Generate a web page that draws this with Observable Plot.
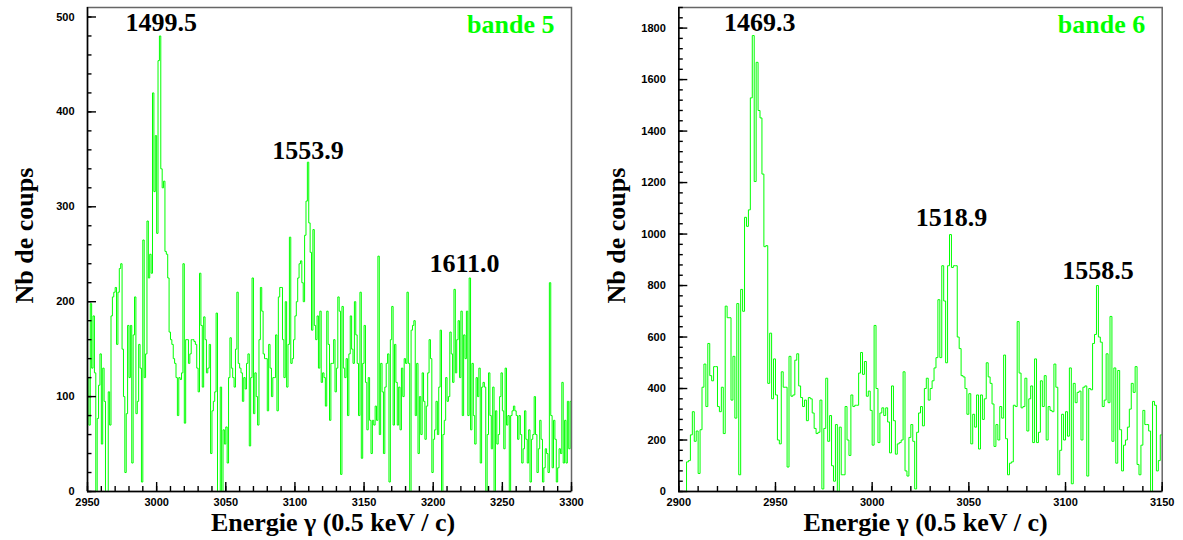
<!DOCTYPE html>
<html><head><meta charset="utf-8">
<script src="https://cdn.jsdelivr.net/npm/d3@7"></script>
<script src="https://cdn.jsdelivr.net/npm/@observablehq/plot@0.6"></script>
<style>
html,body{margin:0;padding:0;background:#fff;}
#wrap{display:flex;width:1183px;height:540px;overflow:hidden;}
#wrap svg{display:block;}
</style></head><body><div id="wrap"></div>
<script>
// ---- band 5 (left) ----
const band5Start = 2950;
const band5Counts = [
120,70,198,130,185,125,0,77,112,145,
50,130,95,0,0,105,70,185,205,210,
215,155,210,235,240,150,100,20,82,175,
120,175,30,165,205,82,95,155,130,10,
265,120,145,285,225,250,230,420,316,375,
272,454,480,340,320,327,253,250,225,168,
160,155,140,135,120,80,120,118,125,240,
72,160,160,135,145,160,160,158,155,130,
105,230,175,110,184,160,125,130,155,40,
85,95,105,188,0,0,110,0,65,50,
68,30,120,162,130,120,110,150,210,135,
130,125,95,120,108,135,145,48,120,225,
82,125,100,70,160,215,190,145,140,140,
85,155,130,100,120,120,165,85,205,215,
215,160,120,200,110,155,268,135,140,160,
185,200,225,240,243,220,200,270,306,347,
283,252,170,276,175,160,185,130,190,115,
125,120,90,190,155,75,135,135,160,105,
130,205,190,18,195,130,120,140,80,145,
185,150,135,200,165,135,80,210,35,135,
175,115,65,120,75,40,75,70,90,75,
248,60,135,105,40,110,135,145,10,160,
195,70,155,115,70,110,65,130,100,140,
135,210,135,0,170,175,180,80,135,40,
100,60,125,95,55,90,125,160,140,20,
55,65,95,60,110,170,0,60,75,120,
95,100,168,145,115,213,125,160,180,120,
190,80,165,140,190,80,225,65,135,80,
50,120,100,130,30,110,115,110,0,60,
125,80,45,110,0,85,50,60,100,125,
85,45,130,70,80,0,80,85,90,85,
80,55,80,60,30,45,85,55,30,65,
10,55,60,100,60,20,45,75,55,10,
25,45,40,20,220,80,25,75,55,10,
25,45,40,115,30,75,30,95,45,95
];
const band5XDomain = [2950, 3300];
const band5YDomain = [0, 510];
const band5XTicks = [2950, 3000, 3050, 3100, 3150, 3200, 3250, 3300];
const band5YTicks = [0, 100, 200, 300, 400, 500];
const band5PeakLabels = ["1499.5", "1553.9", "1611.0"];
const band5PeakX = [3003.3, 3109.4, 3222.6];
const band5PeakY = [494, 359, 240];
const band5Name = "bande 5";

// ---- band 6 (right) ----
const band6Start = 2900;
const band6Counts = [
0,0,0,0,115,120,220,310,195,235,
70,240,405,495,330,575,450,430,485,485,
330,310,405,225,720,675,675,355,525,285,
730,65,785,700,1065,1030,1094,1529,1771,1204,
1667,1480,1451,1233,951,955,420,615,360,515,
375,200,185,465,405,405,95,525,370,375,
510,535,410,365,330,355,275,365,360,305,
245,225,230,355,10,245,440,195,295,100,
40,260,0,250,65,65,330,200,140,375,
330,335,335,460,540,455,505,370,390,315,
180,645,400,190,305,325,295,325,270,150,
410,275,145,185,190,200,465,80,60,210,
260,195,10,230,305,330,255,400,440,355,
400,430,480,520,745,520,877,740,500,877,
998,870,877,877,600,555,450,445,400,300,
380,185,300,250,375,165,375,280,360,500,
445,420,340,175,260,200,330,285,530,205,
65,110,115,335,330,660,460,325,330,440,
235,360,410,190,515,190,230,430,330,450,
200,330,315,310,495,405,65,160,300,200,
310,215,480,30,420,345,385,390,200,405,
410,60,400,395,575,610,800,600,580,330,
355,535,345,680,195,480,110,470,240,80,
180,200,250,320,420,385,485,105,65,180,
315,260,260,235,0,350,335,80,120,220
];
const band6XDomain = [2900, 3150];
const band6YDomain = [0, 1880];
const band6XTicks = [2900, 2950, 3000, 3050, 3100, 3150];
const band6YTicks = [0, 200, 400, 600, 800, 1000, 1200, 1400, 1600, 1800];
const band6PeakLabels = ["1469.3", "1518.9", "1558.5"];
const band6PeakX = [2941.9, 3041, 3116.8];
const band6PeakY = [1822, 1062, 858];
const band6Name = "bande 6";

const xTitle = "Energie γ (0.5 keV / c)";
const yTitle = "Nb de coups";

const GREEN = "#00ff00";
const SERIF = "'Liberation Serif', 'Times New Roman', serif";
const SANS = "'Liberation Sans', Arial, Helvetica, sans-serif";

function panel(o) {
  const H = 540, MT = 7, MB = 49;
  const pts = o.counts.map((v, i) => ({x: o.start + i, y: v}));
  pts.push({x: o.start + o.counts.length, y: o.counts[o.counts.length - 1]});
  const xMinor = d3.range(o.xDomain[0], o.xDomain[1] + 0.001, o.xMinorStep);
  const yMinor = d3.range(o.yDomain[0], o.yDomain[1] + 0.001, o.yMinorStep);
  const peaks = o.labels.map((t, i) => ({t, x: o.lx[i], y: o.ly[i]}));
  const kx = (o.xDomain[1] - o.xDomain[0]) / (o.width - o.ml - o.mr);
  const ky = (o.yDomain[1] - o.yDomain[0]) / (H - MT - MB);
  const x0 = o.xDomain[0], y0 = o.yDomain[0];
  const tick = {stroke: "#000", strokeWidth: 1.4};
  return Plot.plot({
    width: o.width, height: H,
    marginLeft: o.ml, marginRight: o.mr, marginTop: MT, marginBottom: MB,
    x: {domain: o.xDomain},
    y: {domain: o.yDomain},
    style: {background: "white", fontFamily: SANS, overflow: "visible"},
    marks: [
      Plot.line(pts, {x: "x", y: "y", curve: "step-after", stroke: GREEN, strokeWidth: 1, clip: true}),
      Plot.frame({stroke: "#666", strokeWidth: 1.5}),
      Plot.ruleY(yMinor, {y: d => d, x1: x0, x2: x0 + 4.5 * kx, ...tick}),
      Plot.ruleY(o.yTicks, {y: d => d, x1: x0, x2: x0 + 9 * kx, ...tick}),
      Plot.ruleX(xMinor, {x: d => d, y1: y0, y2: y0 + 5 * ky, ...tick}),
      Plot.ruleX(o.xTicks, {x: d => d, y1: y0, y2: y0 + 9 * ky, ...tick}),
      Plot.ruleX([x0], {stroke: "#000", strokeWidth: 1.5}),
      Plot.ruleY([y0], {stroke: "#000", strokeWidth: 1.5}),
      Plot.axisY(o.yTicks, {tickSize: 0, tickPadding: 13, tickFormat: d => String(d), label: null, fontSize: 11, fontWeight: "bold", fontFamily: SANS, fill: "#000"}),
      Plot.axisX(o.xTicks, {tickSize: 0, tickPadding: 7, tickFormat: d => String(d), label: null, fontSize: 11, fontWeight: "bold", fontFamily: SANS, fill: "#000"}),
      Plot.text(peaks, {x: "x", y: "y", text: "t", fontFamily: SERIF, fontWeight: "bold", fontSize: 26, fill: "#000", textAnchor: "middle", lineAnchor: "middle"}),
      Plot.text([o.name], {frameAnchor: "top-right", textAnchor: "end", lineAnchor: "middle", dx: -17, dy: 17.5, fill: GREEN, fontFamily: SERIF, fontWeight: "bold", fontSize: 26}),
      Plot.text([yTitle], {frameAnchor: "left", rotate: -90, textAnchor: "middle", lineAnchor: "middle", dx: -62.5, dy: -14, fill: "#000", fontFamily: SERIF, fontWeight: "bold", fontSize: 26}),
      Plot.text([xTitle], {frameAnchor: "bottom", textAnchor: "middle", lineAnchor: "middle", dx: o.titleDx, dy: 31, fill: "#000", fontFamily: SERIF, fontWeight: "bold", fontSize: 26})
    ]
  });
}

const wrap = document.getElementById("wrap");
wrap.appendChild(panel({
  start: band5Start, counts: band5Counts, xDomain: band5XDomain, yDomain: band5YDomain,
  xTicks: band5XTicks, yTicks: band5YTicks, xMinorStep: 10, yMinorStep: 20,
  labels: band5PeakLabels, lx: band5PeakX, ly: band5PeakY, name: band5Name,
  width: 591, ml: 87, mr: 20, titleDx: 3.5
}));
wrap.appendChild(panel({
  start: band6Start, counts: band6Counts, xDomain: band6XDomain, yDomain: band6YDomain,
  xTicks: band6XTicks, yTicks: band6YTicks, xMinorStep: 10, yMinorStep: 40,
  labels: band6PeakLabels, lx: band6PeakX, ly: band6PeakY, name: band6Name,
  width: 592, ml: 87.3, mr: 21.3, titleDx: 5
}));
</script>
</body></html>
